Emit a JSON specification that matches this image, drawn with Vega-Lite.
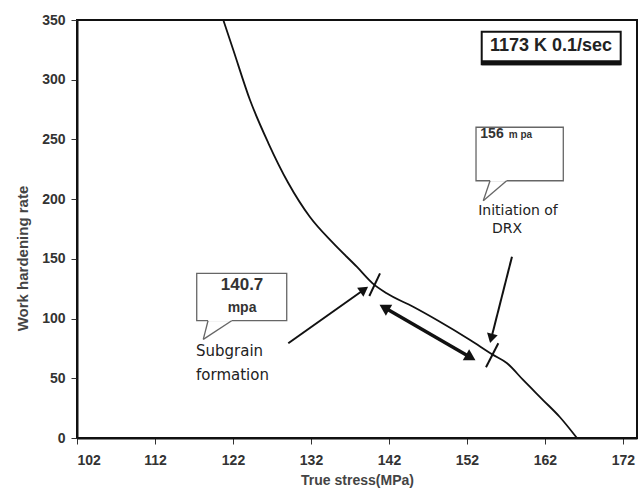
{
  "$schema": "https://vega.github.io/schema/vega-lite/v6.json",
  "width": 560,
  "height": 418,
  "autosize": {"type": "none"},
  "padding": {"left": 77, "top": 20, "right": 3, "bottom": 54},
  "background": "white",
  "config": {
    "view": {"stroke": "#111", "strokeWidth": 2},
    "font": "Liberation Sans",
    "axis": {
      "grid": false,
      "domainColor": "#111",
      "domainWidth": 2,
      "tickColor": "#333",
      "tickWidth": 1,
      "tickSize": 6,
      "labelFont": "Liberation Sans",
      "labelFontSize": 14,
      "labelFontWeight": "bold",
      "labelColor": "#333",
      "titleFont": "Liberation Sans",
      "titleFontSize": 14,
      "titleFontWeight": "bold",
      "titleColor": "#444"
    }
  },
  "datasets": {
    "curve": [
      {"stress": 120.76, "rate": 350},
      {"stress": 122.04, "rate": 324.9},
      {"stress": 124.18, "rate": 283.0},
      {"stress": 126.53, "rate": 247.0},
      {"stress": 129.09, "rate": 213.5},
      {"stress": 131.87, "rate": 185.0},
      {"stress": 134.82, "rate": 163.3},
      {"stress": 137.90, "rate": 143.2},
      {"stress": 139.90, "rate": 129.5},
      {"stress": 141.70, "rate": 121.2},
      {"stress": 145.10, "rate": 109.9},
      {"stress": 148.20, "rate": 98.6},
      {"stress": 152.40, "rate": 82.1},
      {"stress": 155.30, "rate": 69.8},
      {"stress": 157.10, "rate": 62.8},
      {"stress": 159.20, "rate": 48.6},
      {"stress": 161.75, "rate": 31.8},
      {"stress": 163.90, "rate": 17.6},
      {"stress": 166.10, "rate": 0}
    ],
    "thin": [
      {"x": 140.85, "y": 137.9, "x2": 139.48, "y2": 118.9},
      {"x": 156.02, "y": 79.3, "x2": 154.44, "y2": 59.2},
      {"x": 129.09, "y": 79.3, "x2": 138.82, "y2": 124.3},
      {"x": 157.77, "y": 151.8, "x2": 155.11, "y2": 83.3}
    ],
    "thick": [
      {"x": 141.40, "y": 109.3, "x2": 152.48, "y2": 67.4}
    ],
    "heads": [
      {"id": "a1", "x": 138.82, "y": 124.3},
      {"id": "a2", "x": 141.40, "y": 109.3},
      {"id": "a3", "x": 152.48, "y": 67.4},
      {"id": "a4", "x": 155.11, "y": 83.3}
    ],
    "bubbles": [
      {"x": 117.35, "x2": 128.89, "y": 137.9, "y2": 98.2},
      {"x": 153.16, "x2": 164.35, "y": 260.2, "y2": 215.4}
    ],
    "gaps": [
      {"x": 118.80, "x2": 121.83, "y": 98.2},
      {"x": 154.96, "x2": 157.09, "y": 215.4}
    ],
    "tails": [
      {"x": 118.80, "y": 98.2, "x2": 118.19, "y2": 82.6},
      {"x": 118.19, "y": 82.6, "x2": 121.83, "y2": 98.2},
      {"x": 154.96, "y": 215.4, "x2": 154.09, "y2": 198.7},
      {"x": 154.09, "y": 198.7, "x2": 157.09, "y2": 215.4}
    ],
    "bignum": [
      {"x": 123.16, "y": 128.1, "t": "140.7", "k": "a"},
      {"x": 155.21, "y": 254.5, "t": "156", "k": "b"}
    ],
    "unit": [
      {"x": 123.16, "y": 108.9, "t": "mpa", "k": "a"},
      {"x": 158.86, "y": 253.5, "t": "m pa", "k": "b"}
    ],
    "leftnotes": [
      {"x": 117.26, "y": 72.8, "t": "Subgrain"},
      {"x": 117.26, "y": 52.8, "t": "formation"}
    ],
    "centernotes": [
      {"x": 158.54, "y": 190.3, "t": "Initiation of"},
      {"x": 157.13, "y": 175.0, "t": "DRX"}
    ],
    "titlebox": [
      {"x": 153.89, "x2": 171.71, "y": 340.2, "y2": 313.0}
    ],
    "titletext": [
      {"x": 162.77, "y": 328.0, "t": "1173 K  0.1/sec"}
    ]
  },
  "layer": [
    {
      "data": {"name": "curve"},
      "mark": {"type": "line", "color": "#111", "strokeWidth": 1.8, "interpolate": "monotone", "clip": true},
      "encoding": {
        "x": {
          "field": "stress", "type": "quantitative",
          "scale": {"domain": [102, 173.8], "nice": false, "zero": false},
          "axis": {"values": [102, 112, 122, 132, 142, 152, 162, 172], "title": "True stress(MPa)", "labelPadding": 9, "titlePadding": 6}
        },
        "y": {
          "field": "rate", "type": "quantitative",
          "scale": {"domain": [0, 350], "nice": false},
          "axis": {"values": [0, 50, 100, 150, 200, 250, 300, 350], "title": "Work hardening rate", "labelPadding": 6, "titleFontSize": 15, "titleX": -55, "titleY": 238, "titleAngle": 270, "titleAlign": "center", "titleBaseline": "middle"}
        }
      }
    },
    {
      "data": {"name": "thin"},
      "mark": {"type": "rule", "color": "#111", "strokeWidth": 2},
      "encoding": {
        "x": {"field": "x", "type": "quantitative"},
        "y": {"field": "y", "type": "quantitative"},
        "x2": {"field": "x2"},
        "y2": {"field": "y2"}
      }
    },
    {
      "data": {"name": "thick"},
      "mark": {"type": "rule", "color": "#111", "strokeWidth": 3.5},
      "encoding": {
        "x": {"field": "x", "type": "quantitative"},
        "y": {"field": "y", "type": "quantitative"},
        "x2": {"field": "x2"},
        "y2": {"field": "y2"}
      }
    },
    {
      "data": {"name": "heads"},
      "transform": [{"filter": "datum.id == 'a1'"}],
      "mark": {"type": "point", "shape": "triangle-up", "filled": true, "color": "#111", "size": 120, "angle": 55, "opacity": 1},
      "encoding": {"x": {"field": "x", "type": "quantitative"}, "y": {"field": "y", "type": "quantitative"}}
    },
    {
      "data": {"name": "heads"},
      "transform": [{"filter": "datum.id == 'a2'"}],
      "mark": {"type": "point", "shape": "triangle-up", "filled": true, "color": "#111", "size": 160, "angle": 300, "opacity": 1},
      "encoding": {"x": {"field": "x", "type": "quantitative"}, "y": {"field": "y", "type": "quantitative"}}
    },
    {
      "data": {"name": "heads"},
      "transform": [{"filter": "datum.id == 'a3'"}],
      "mark": {"type": "point", "shape": "triangle-up", "filled": true, "color": "#111", "size": 160, "angle": 120, "opacity": 1},
      "encoding": {"x": {"field": "x", "type": "quantitative"}, "y": {"field": "y", "type": "quantitative"}}
    },
    {
      "data": {"name": "heads"},
      "transform": [{"filter": "datum.id == 'a4'"}],
      "mark": {"type": "point", "shape": "triangle-up", "filled": true, "color": "#111", "size": 120, "angle": 194, "opacity": 1},
      "encoding": {"x": {"field": "x", "type": "quantitative"}, "y": {"field": "y", "type": "quantitative"}}
    },
    {
      "data": {"name": "bubbles"},
      "mark": {"type": "rect", "fill": "white", "stroke": "#666", "strokeWidth": 1.3},
      "encoding": {
        "x": {"field": "x", "type": "quantitative"},
        "x2": {"field": "x2"},
        "y": {"field": "y", "type": "quantitative"},
        "y2": {"field": "y2"}
      }
    },
    {
      "data": {"name": "gaps"},
      "mark": {"type": "rule", "color": "white", "strokeWidth": 2},
      "encoding": {
        "x": {"field": "x", "type": "quantitative"},
        "x2": {"field": "x2"},
        "y": {"field": "y", "type": "quantitative"}
      }
    },
    {
      "data": {"name": "tails"},
      "mark": {"type": "rule", "color": "#666", "strokeWidth": 1.3},
      "encoding": {
        "x": {"field": "x", "type": "quantitative"},
        "y": {"field": "y", "type": "quantitative"},
        "x2": {"field": "x2"},
        "y2": {"field": "y2"}
      }
    },
    {
      "data": {"name": "bignum"},
      "transform": [{"filter": "datum.k == 'a'"}],
      "mark": {"type": "text", "font": "Liberation Sans", "fontSize": 17, "fontWeight": "bold", "color": "#333", "align": "center", "baseline": "middle"},
      "encoding": {
        "x": {"field": "x", "type": "quantitative"},
        "y": {"field": "y", "type": "quantitative"},
        "text": {"field": "t"}
      }
    },
    {
      "data": {"name": "bignum"},
      "transform": [{"filter": "datum.k == 'b'"}],
      "mark": {"type": "text", "font": "Liberation Sans", "fontSize": 14, "fontWeight": "bold", "color": "#333", "align": "center", "baseline": "middle"},
      "encoding": {
        "x": {"field": "x", "type": "quantitative"},
        "y": {"field": "y", "type": "quantitative"},
        "text": {"field": "t"}
      }
    },
    {
      "data": {"name": "unit"},
      "transform": [{"filter": "datum.k == 'a'"}],
      "mark": {"type": "text", "font": "Liberation Sans", "fontSize": 14, "fontWeight": "bold", "color": "#333", "align": "center", "baseline": "middle"},
      "encoding": {
        "x": {"field": "x", "type": "quantitative"},
        "y": {"field": "y", "type": "quantitative"},
        "text": {"field": "t"}
      }
    },
    {
      "data": {"name": "unit"},
      "transform": [{"filter": "datum.k == 'b'"}],
      "mark": {"type": "text", "font": "Liberation Sans", "fontSize": 10, "fontWeight": "bold", "color": "#333", "align": "center", "baseline": "middle"},
      "encoding": {
        "x": {"field": "x", "type": "quantitative"},
        "y": {"field": "y", "type": "quantitative"},
        "text": {"field": "t"}
      }
    },
    {
      "data": {"name": "leftnotes"},
      "mark": {"type": "text", "font": "DejaVu Sans", "fontSize": 15, "color": "#222", "align": "left", "baseline": "middle"},
      "encoding": {
        "x": {"field": "x", "type": "quantitative"},
        "y": {"field": "y", "type": "quantitative"},
        "text": {"field": "t"}
      }
    },
    {
      "data": {"name": "centernotes"},
      "mark": {"type": "text", "font": "DejaVu Sans", "fontSize": 14, "color": "#222", "align": "center", "baseline": "middle"},
      "encoding": {
        "x": {"field": "x", "type": "quantitative"},
        "y": {"field": "y", "type": "quantitative"},
        "text": {"field": "t"}
      }
    },
    {
      "data": {"name": "titlebox"},
      "mark": {"type": "rect", "fill": "white", "stroke": "#111", "strokeWidth": 2},
      "encoding": {
        "x": {"field": "x", "type": "quantitative"},
        "x2": {"field": "x2"},
        "y": {"field": "y", "type": "quantitative"},
        "y2": {"field": "y2"}
      }
    },
    {
      "data": {"name": "titlebox"},
      "mark": {"type": "rule", "color": "#111", "strokeWidth": 5, "yOffset": -1.5},
      "encoding": {
        "x": {"field": "x", "type": "quantitative"},
        "x2": {"field": "x2"},
        "y": {"field": "y2", "type": "quantitative"}
      }
    },
    {
      "data": {"name": "titletext"},
      "mark": {"type": "text", "font": "Liberation Sans", "fontSize": 18, "fontWeight": "bold", "color": "#222", "align": "center", "baseline": "middle"},
      "encoding": {
        "x": {"field": "x", "type": "quantitative"},
        "y": {"field": "y", "type": "quantitative"},
        "text": {"field": "t"}
      }
    }
  ]
}
